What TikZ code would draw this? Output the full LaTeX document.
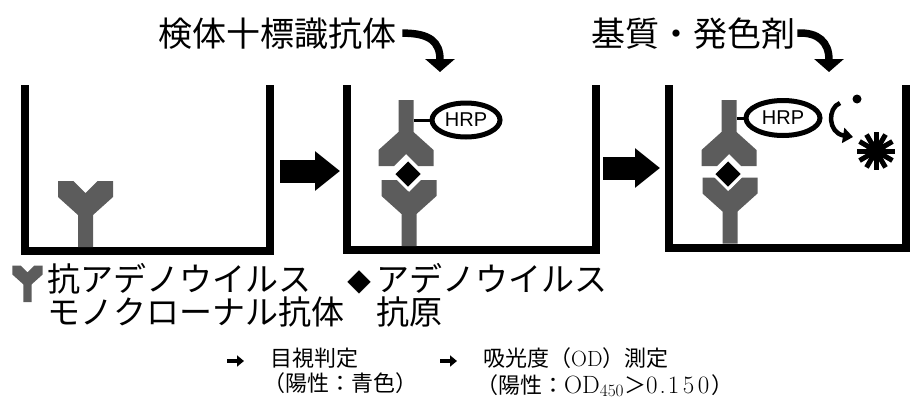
\documentclass[tikz,border=0pt]{standalone}
\usepackage{fontspec}
\newfontfamily\jp{Noto Sans CJK JP}
\newfontfamily\hrpfont{Liberation Sans}
\usetikzlibrary{arrows.meta,shapes.geometric}
\definecolor{abgray}{gray}{0.36}

\begin{document}
\begin{tikzpicture}[x=1pt,y=-1pt,
  wall/.style={line width=8pt,line join=miter},
  bigarrow/.style={line width=23pt,-{Triangle[length=25pt,width=38pt]}},
  bendarrow/.style={line width=7.5pt,-{Triangle[length=13pt,width=29pt]}},
  bullet/.style={line width=4pt,-{Triangle[length=7pt,width=11pt]}},
  hrp/.style={ellipse,draw,line width=5pt,minimum width=68pt,minimum height=34pt,
    inner sep=0pt,font=\hrpfont\fontsize{20}{20}\selectfont},
  antigen/.style={diamond,fill=black,draw=white,line width=3pt,minimum size=31pt,inner sep=0pt},
  title/.style={inner sep=0pt,font=\jp\fontsize{34}{34}\selectfont},
  legend/.style={inner sep=0pt,align=left,font=\jp\fontsize{33}{33}\selectfont},
  note/.style={inner sep=0pt,font=\jp\fontsize{22}{22}\selectfont},
  pics/ab/.style={code={
    \fill[abgray] (-7.5,0) -- (-7.5,-32) -- (-27.5,-50) -- (-27.5,-66)
      -- (-12,-66) -- (0,-54) -- (12,-66) -- (27.5,-66) -- (27.5,-50)
      -- (7.5,-32) -- (7.5,0) -- cycle;}}]
\useasboundingbox (0,0) rectangle (910,399);

% titles and the bent arrows into the wells
\node[title,anchor=base west] (t1) at (158,46) {検体十標識抗体};
\node[title,anchor=base west] (t2) at (591,46) {基質・発色剤};
\coordinate (d2) at (440,72);
\coordinate (d3) at (829,72);
\draw[bendarrow] ([xshift=6pt]t1.east) .. controls (430,33) and (440,42) .. (d2);
\draw[bendarrow] ([xshift=2pt]t2.east) .. controls (818,32) and (829,42) .. (d3);

% wells
\draw[wall] (24.5,85) -- (24.5,251) -- (270,251) -- (270,85);
\draw[wall] (347,85) -- (347,250) -- (596,250) -- (596,85);
\draw[wall] (669,85) -- (669,247.5) -- (906,247.5) -- (906,85);

\coordinate (a1) at (280,171);
\coordinate (b1) at (340,171);
\coordinate (a2) at (603,168);
\coordinate (b2) at (660,168);
\draw[bigarrow] (a1) -- (b1);
\draw[bigarrow] (a2) -- (b2);

% well 1
\pic at (85.5,247) {ab};

% well 2
\pic at (409,246) {ab};
\pic[yscale=-1] at (406,100) {ab};
\node[antigen] (ag2) at (408,174) {};
\node[hrp] (hrp2) at (466,120) {HRP};
\coordinate (s2) at (413.5,120);
\draw[line width=3pt] (s2) -- (hrp2);

% well 3
\pic at (730,243.5) {ab};
\pic[yscale=-1] at (729,100) {ab};
\node[antigen] (ag3) at (728,174) {};
\node[hrp,minimum width=74pt,minimum height=35pt] (hrp3) at (783,118) {HRP};
\coordinate (s3) at (736.5,118);
\draw[line width=3pt] (s3) -- (hrp3);
\fill (857,99) circle (4.5);
\node[circle,fill,inner sep=0pt,minimum size=20pt] (prod) at (876,151) {};
\foreach \a in {0,30,...,330}
  \draw[line width=5pt] (prod.center) -- ++(\a:19);
\coordinate (c1) at (840,103);
\coordinate (c2) at (853,137);
\draw[line width=4.5pt,-{Triangle[length=10pt,width=15pt]}] (c1) .. controls (827,108) and (828,133) .. (c2);

% legend
\pic[scale=0.55] at (27.5,302) {ab};
\node[legend,anchor=north west] (lab) at (47,263) {抗アデノウイルス\\モノクローナル抗体};
\node[legend,anchor=north west] (lag) at (343,263)
  {\makebox[33pt]{\fontsize{24}{33}\selectfont◆}アデノウイルス\\　抗原};

\node[note,anchor=base west] (vis) at (270,366) {目視判定};
\node[note,anchor=base west] (vispos) at (263,391) {（陽性：青色）};
\node[note,anchor=base west] (od) at (483,366) {吸光度（{\rmfamily OD}）測定};
\node[note,anchor=base west] (odpos) at (476,393)
  {（陽性：{\rmfamily\fontsize{25}{25}\selectfont OD$_{450}$}＞{\rmfamily\fontsize{25}{25}\selectfont
   0\kern2pt.\kern2pt1\kern3.5pt5\kern3.5pt0\kern2pt}）};
\draw[bullet] ([xshift=-43pt]vis.base west) ++(0,-5) -- ++(17,0);
\draw[bullet] ([xshift=-43pt]od.base west) ++(0,-5) -- ++(17,0);
\end{tikzpicture}
\end{document}
